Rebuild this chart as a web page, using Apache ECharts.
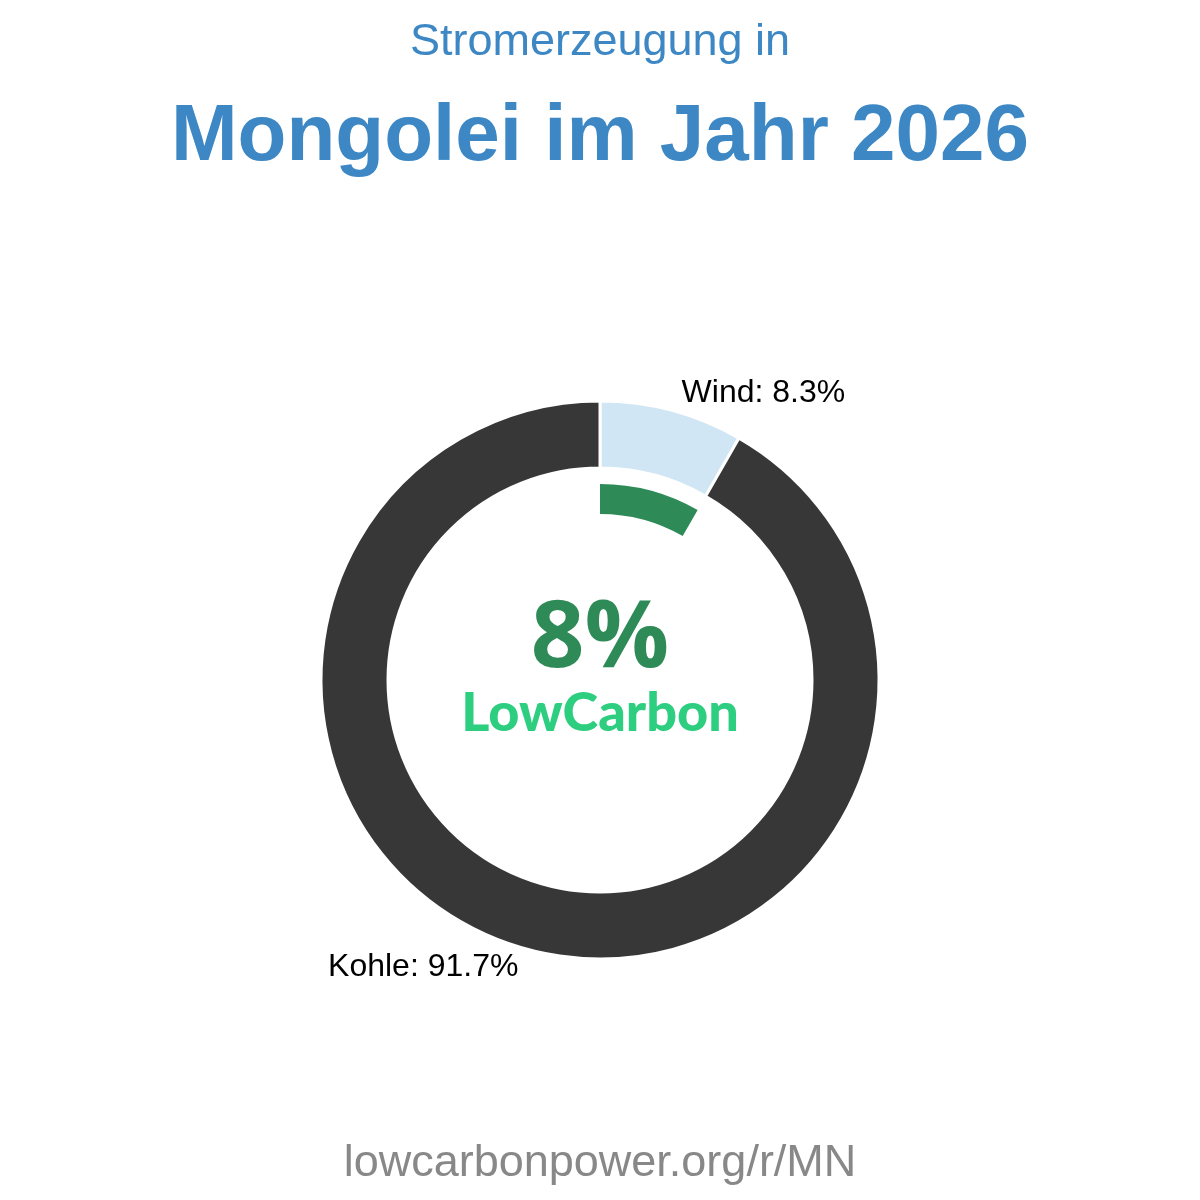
<!DOCTYPE html>
<html>
<head>
<meta charset="utf-8">
<title>Stromerzeugung Mongolei 2026</title>
<script src="https://cdn.jsdelivr.net/npm/echarts@6/dist/echarts.min.js"></script>
<style>
  html, body { margin: 0; padding: 0; background: #fff; }
  #main { width: 1200px; height: 1200px; }
</style>
</head>
<body>
<div id="main"></div>
<script>
// Daten
const sources = ['Wind', 'Kohle'];
const shares = [8.3, 91.7];
const colors = ['#d1e6f5', '#373737'];
const lowCarbonShare = 8.3;

const chart = echarts.init(document.getElementById('main'));

const pieData = sources.map((name, i) => ({
  name: name,
  value: shares[i],
  itemStyle: { color: colors[i] }
}));

const option = {
  backgroundColor: '#fff',
  animation: false,
  title: [
    {
      text: 'Stromerzeugung in',
      left: 'center',
      top: 15,
      textStyle: { fontFamily: 'Liberation Sans', fontSize: 45, fontWeight: 'normal', color: '#3d88c4' }
    },
    {
      text: 'Mongolei im Jahr 2026',
      left: 'center',
      top: 93,
      textStyle: { fontFamily: 'Liberation Sans', fontSize: 80, fontWeight: 'bold', color: '#3d88c4' }
    },
    {
      text: 'lowcarbonpower.org/r/MN',
      left: 'center',
      top: 1136,
      textStyle: { fontFamily: 'Liberation Sans', fontSize: 45, fontWeight: 'normal', color: '#888888' }
    }
  ],
  series: [
    {
      type: 'pie',
      center: [600, 680],
      radius: [212, 279],
      startAngle: 90,
      clockwise: true,
      silent: true,
      itemStyle: { borderColor: '#fff', borderWidth: 3 },
      label: {
        show: true,
        position: 'outside',
        formatter: p => p.name + ': ' + p.value + '%',
        fontFamily: 'Liberation Sans',
        fontSize: 32,
        color: '#000'
      },
      labelLine: { show: false, length: 18, length2: 0 },
      data: pieData
    },
    {
      type: 'pie',
      center: [600, 680],
      radius: [166, 196],
      startAngle: 90,
      clockwise: true,
      silent: true,
      label: { show: false },
      labelLine: { show: false },
      data: [
        { value: lowCarbonShare, itemStyle: { color: '#2e8b57' } },
        { value: 100 - lowCarbonShare, itemStyle: { color: 'rgba(0,0,0,0)' } }
      ]
    }
  ],
  graphic: [
    {
      type: 'text',
      x: 600,
      y: 640,
      style: {
        text: Math.round(lowCarbonShare) + '%',
        fill: '#2e8b57',
        font: 'bold 94px "Open Sans"',
        textAlign: 'center',
        textVerticalAlign: 'middle'
      }
    },
    {
      type: 'text',
      x: 600,
      y: 714,
      style: {
        text: 'LowCarbon',
        fill: '#2dce80',
        font: '900 54px Lato',
        textAlign: 'center',
        textVerticalAlign: 'middle'
      }
    }
  ]
};

chart.setOption(option);
</script>
</body>
</html>
